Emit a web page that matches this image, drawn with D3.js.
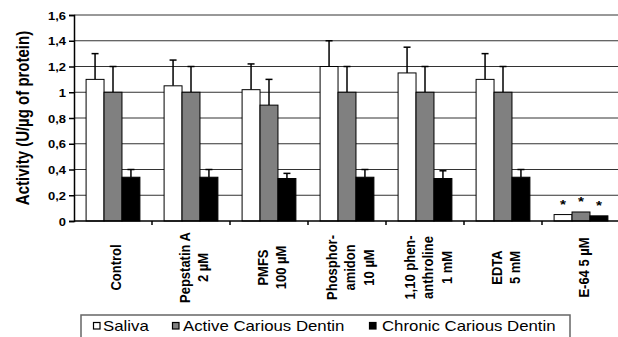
<!DOCTYPE html>
<html>
<head>
<meta charset="utf-8">
<script src="https://cdn.jsdelivr.net/npm/d3@7"></script>
<style>
  body { margin: 0; background: #fff; }
  text { font-family: Arial, "Liberation Sans", sans-serif; fill: #000; }
</style>
</head>
<body>
<div id="chart"></div>
<script>
    var categories = [
        ["Control"],
        ["Pepstatin A", "2 µM"],
        ["PMFS", "100 µM"],
        ["Phosphor-", "amidon", "10 µM"],
        ["1,10 phen-", "anthroline", "1 mM"],
        ["EDTA", "5 mM"],
        ["E-64 5 µM"]
    ];
    var seriesNames = ["Saliva", "Active Carious Dentin", "Chronic Carious Dentin"];
    var saliva = [1.10, 1.05, 1.02, 1.20, 1.15, 1.10, 0.05];
    var active = [1.00, 1.00, 0.90, 1.00, 1.00, 1.00, 0.07];
    var chronic = [0.34, 0.34, 0.33, 0.34, 0.33, 0.34, 0.04];
    var salivaErr = [0.20, 0.20, 0.20, 0.20, 0.20, 0.20, 0];
    var activeErr = [0.20, 0.20, 0.20, 0.20, 0.20, 0.20, 0];
    var chronicErr = [0.06, 0.06, 0.04, 0.06, 0.06, 0.06, 0];
    var starred = [false, false, false, false, false, false, true];
    var yTicks = [0, 0.2, 0.4, 0.6, 0.8, 1, 1.2, 1.4, 1.6];
    var colors = ["#ffffff", "#808080", "#000000"];

    var width = 618, height = 337;
    var margin = {top: 15, right: 0, bottom: 116, left: 74};
    // the picture is a little wider than tall: texts are stretched sideways
    var stretch = 1.18;

    var svg = d3.select('#chart').append('svg')
                .attr('width', width)
                .attr('height', height);

    var xScale = d3.scaleBand()
        .domain(d3.range(categories.length))
        .range([margin.left, margin.left + 78 * categories.length])
        .paddingInner(0.31)
        .paddingOuter(0.155);

    var xSub = d3.scaleBand()
        .domain(d3.range(seriesNames.length))
        .range([0, xScale.bandwidth()]);

    var yScale = d3.scaleLinear()
        .domain([0, 1.6])
        .range([height - margin.bottom, margin.top]);

    // gridlines
    svg.append("g")
        .selectAll("line")
        .data(yTicks.slice(1))
        .enter().append("line")
        .attr("x1", margin.left).attr("x2", width)
        .attr("y1", function(d) { return yScale(d); })
        .attr("y2", function(d) { return yScale(d); })
        .attr("stroke", "#333").attr("stroke-width", 1);

    var yAxis = d3.axisLeft(yScale)
        .tickValues(yTicks)
        .tickSize(5)
        .tickPadding(3)
        .tickFormat(function(d) { return String(d).replace(".", ","); });

    svg.append("g")
        .attr("transform", `translate(${margin.left},0)`)
        .call(yAxis)
        .call(function(g) {
            g.select(".domain").attr("stroke-width", 1.5);
            g.selectAll(".tick line").attr("stroke-width", 1.5);
            g.selectAll("text")
                .attr("x", null)
                .attr("dy", null)
                .attr("transform", `translate(-8,4) scale(${stretch},1)`)
                .style("font-size", "11px")
                .style("font-weight", "bold");
        });

    var series = [saliva, active, chronic];
    var errs = [salivaErr, activeErr, chronicErr];

    var groups = svg.selectAll("g.grp")
        .data(categories)
        .enter().append("g")
        .attr("class", "grp")
        .attr("transform", function(d, i) { return `translate(${xScale(i)},0)`; });

    groups.each(function(c, i) {
        var g = d3.select(this);
        series.forEach(function(s, k) {
            var x = xSub(k), w = xSub.bandwidth();
            var top = yScale(s[i]);
            if (errs[k][i] > 0) {
                var ey = yScale(s[i] + errs[k][i]);
                g.append("line")
                    .attr("x1", x + w / 2).attr("x2", x + w / 2)
                    .attr("y1", top).attr("y2", ey)
                    .attr("stroke", "#000").attr("stroke-width", 1.5);
                g.append("line")
                    .attr("x1", x + w / 2 - 3.5).attr("x2", x + w / 2 + 3.5)
                    .attr("y1", ey).attr("y2", ey)
                    .attr("stroke", "#000").attr("stroke-width", 1.5);
            }
            g.append("rect")
                .attr("x", x).attr("width", w)
                .attr("y", top).attr("height", yScale(0) - top)
                .attr("fill", colors[k])
                .attr("stroke", "#000").attr("stroke-width", 1);
            if (starred[i]) {
                g.append("text")
                    .attr("transform", `translate(${x + w / 2},${top - 6}) scale(${stretch},1)`)
                    .attr("text-anchor", "middle")
                    .style("font-weight", "bold")
                    .style("font-size", "13px")
                    .text("*");
            }
        });
    });

    // x axis line and ticks
    var base = yScale(0);
    svg.append("line")
        .attr("x1", margin.left).attr("x2", width)
        .attr("y1", base).attr("y2", base)
        .attr("stroke", "#000").attr("stroke-width", 1.5);
    svg.append("g").selectAll("line")
        .data(d3.range(1, categories.length))
        .enter().append("line")
        .attr("x1", function(d) { return margin.left + xScale.step() * d; })
        .attr("x2", function(d) { return margin.left + xScale.step() * d; })
        .attr("y1", base).attr("y2", base + 4)
        .attr("stroke", "#000").attr("stroke-width", 1.5);

    // rotated category labels
    var lineGap = 15.5;
    groups.append("text")
        .attr("text-anchor", "middle")
        .style("font-weight", "bold")
        .style("font-size", "13px")
        .attr("transform", function(d) {
            var cx = xScale.bandwidth() / 2 + 3;
            return `translate(${cx},267.5) scale(${stretch},1) rotate(-90)`;
        })
        .each(function(d) {
            var t = d3.select(this);
            var n = d.length;
            d.forEach(function(line, j) {
                t.append("tspan")
                    .attr("x", 0)
                    .attr("y", (j - (n - 1) / 2) * lineGap)
                    .attr("dy", "0.35em")
                    .text(line);
            });
        });

    // y axis title
    svg.append("text")
        .attr("transform", `translate(29,118) scale(${stretch},1) rotate(-90)`)
        .attr("text-anchor", "middle")
        .style("font-weight", "bold")
        .style("font-size", "15px")
        .text("Activity (U/µg of protein)");

    // legend
    var legend = svg.append("g");
    legend.append("rect")
        .attr("x", 81).attr("y", 315)
        .attr("width", 489).attr("height", 24)
        .attr("fill", "#fff").attr("stroke", "#666").attr("stroke-width", 1.5);
    var legendSwatchX = [93, 172, 369];
    var legendTextX = [103, 183, 382];
    seriesNames.forEach(function(name, k) {
        legend.append("rect")
            .attr("x", legendSwatchX[k] + 0.5).attr("y", 322.5)
            .attr("width", 6.5).attr("height", 6.5)
            .attr("fill", colors[k]).attr("stroke", "#000").attr("stroke-width", 1.2);
        legend.append("text")
            .attr("transform", `translate(${legendTextX[k]},330.5) scale(${stretch + 0.02},1)`)
            .style("font-size", "14px")
            .text(name);
    });
</script>
</body>
</html>
